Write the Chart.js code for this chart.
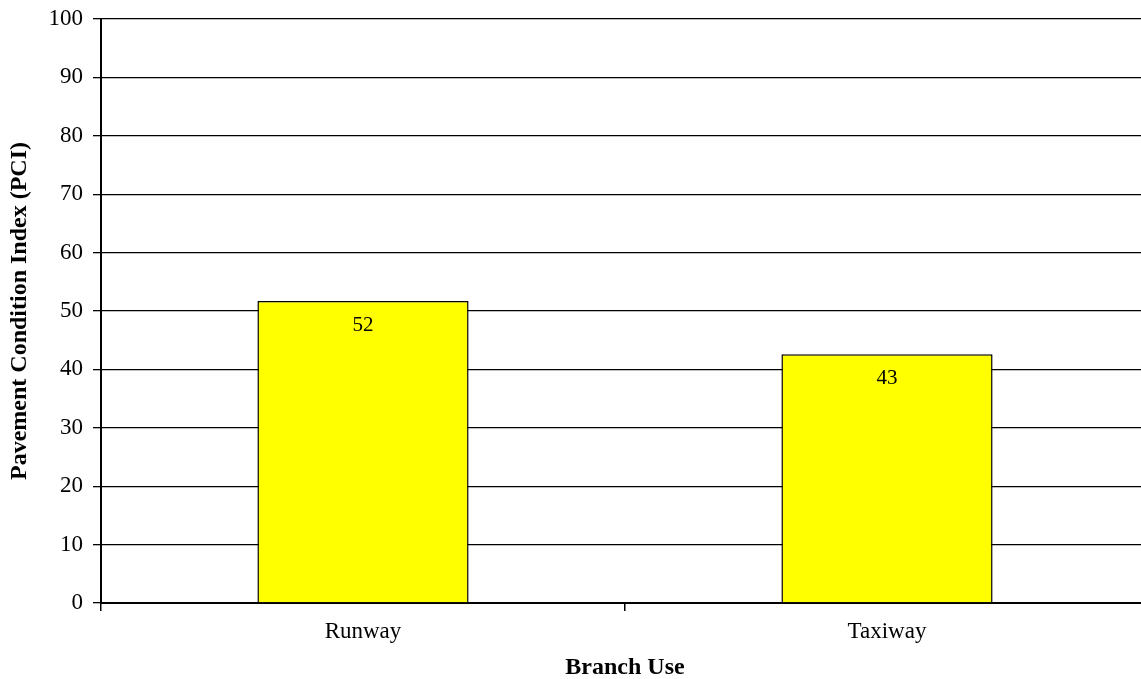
<!DOCTYPE html>
<html>
<head>
<meta charset="utf-8">
<script src="https://cdn.jsdelivr.net/npm/chart.js@4"></script>
<style>
    html, body { margin: 0; padding: 0; background: #fff; }
    /* plot area runs a little past the right edge of the picture */
    #wrap { width: 1141px; height: 679px; overflow: hidden; }
</style>
</head>
<body>
<div id="wrap"><canvas id="chart" width="1149" height="679"></canvas></div>
<script>
// Chart data
const categories = ['Runway', 'Taxiway']
const pciValues = [51.7, 42.6]
const yTicks = [0, 10, 20, 30, 40, 50, 60, 70, 80, 90, 100]

const serif = 'Liberation Serif, Times New Roman, serif'

// Draw rounded value inside top of each bar
const valueLabels = {
    id: 'valueLabels',
    afterDatasetsDraw(chart) {
        const ctx = chart.ctx
        const meta = chart.getDatasetMeta(0)
        ctx.save()
        ctx.font = '21px ' + serif
        ctx.fillStyle = '#000'
        ctx.textAlign = 'center'
        ctx.textBaseline = 'middle'
        meta.data.forEach((bar, i) => {
            ctx.fillText(String(Math.round(pciValues[i])), bar.x, bar.y + 24)
        })
        ctx.restore()
    }
}

new Chart(document.getElementById('chart'), {
    type: 'bar',
    data: {
        labels: categories,
        datasets: [{
            data: pciValues,
            backgroundColor: '#ffff00',
            borderColor: '#000',
            borderWidth: 1.5,
            categoryPercentage: 1,
            barPercentage: 0.403
        }]
    },
    options: {
        responsive: false,
        animation: false,
        layout: { padding: { top: 19, right: 0, left: 0, bottom: 0 } },
        plugins: {
            legend: { display: false },
            tooltip: { enabled: false }
        },
        scales: {
            x: {
                afterFit: (scale) => { scale.height = 76 },
                grid: {
                    offset: true,
                    drawOnChartArea: false,
                    color: '#000',
                    lineWidth: 1.5,
                    tickLength: 8
                },
                border: { color: '#000', width: 2 },
                ticks: {
                    color: '#000',
                    font: { family: serif, size: 23 },
                    padding: 7
                },
                title: {
                    display: true,
                    text: 'Branch Use',
                    color: '#000',
                    font: { family: serif, size: 24, weight: 'bold', lineHeight: 0.9 },
                    padding: { top: 0, bottom: 0 }
                }
            },
            y: {
                min: 0,
                max: 100,
                afterFit: (scale) => {
                    scale.width = 101
                    scale.paddingTop = 0
                    scale.paddingBottom = 0
                },
                afterBuildTicks: (scale) => { scale.ticks = yTicks.map(v => ({ value: v })) },
                grid: {
                    color: '#000',
                    lineWidth: 1.3,
                    tickLength: 8
                },
                border: { color: '#000', width: 2 },
                ticks: {
                    color: '#000',
                    font: { family: serif, size: 23 },
                    padding: 10
                },
                title: {
                    display: true,
                    text: 'Pavement Condition Index (PCI)',
                    color: '#000',
                    font: { family: serif, size: 24, weight: 'bold', lineHeight: 1 },
                    padding: { top: 8, bottom: 0 }
                }
            }
        }
    },
    plugins: [valueLabels]
})
</script>
</body>
</html>
